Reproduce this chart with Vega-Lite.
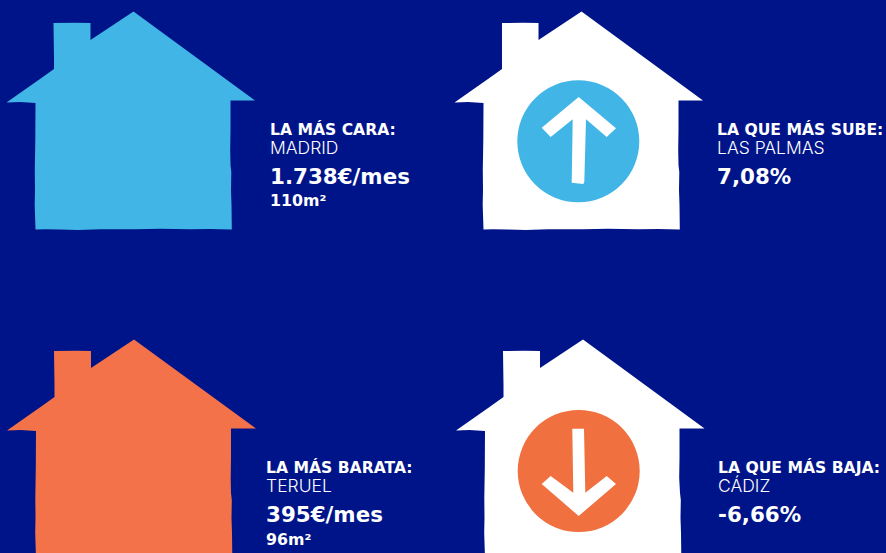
{"$schema":"https://vega.github.io/schema/vega-lite/v6.json","width":886,"height":553,"autosize":{"type":"fit","contains":"padding"},"padding":0,"background":"#001489","view":{"stroke":null},
"datasets":{
"blueHouse":[{"s":"a","i":0,"x":133.5,"y":11.5},{"s":"a","i":3,"x":255,"y":100.5},{"s":"a","i":4,"x":230.5,"y":100.5},{"s":"a","i":5,"x":230.5,"y":130},{"s":"a","i":6,"x":230.2,"y":150},{"s":"a","i":7,"x":230.5,"y":165},{"s":"a","i":8,"x":231.3,"y":172},{"s":"a","i":9,"x":231,"y":190},{"s":"a","i":10,"x":231.5,"y":205},{"s":"a","i":11,"x":231.8,"y":229.5},{"s":"a","i":12,"x":210,"y":229},{"s":"a","i":13,"x":190,"y":229.3},{"s":"a","i":14,"x":160,"y":228.8},{"s":"a","i":15,"x":135,"y":229.3},{"s":"a","i":16,"x":100,"y":229.2},{"s":"a","i":17,"x":78,"y":230},{"s":"a","i":18,"x":60,"y":229.6},{"s":"a","i":19,"x":45,"y":229.3},{"s":"a","i":20,"x":35.5,"y":229.5},{"s":"a","i":21,"x":34.7,"y":205},{"s":"a","i":22,"x":35,"y":190},{"s":"a","i":23,"x":34.8,"y":170},{"s":"a","i":24,"x":35.3,"y":140},{"s":"a","i":25,"x":35.5,"y":103},{"s":"a","i":26,"x":20,"y":102},{"s":"a","i":27,"x":6.5,"y":102.5},{"s":"a","i":28,"x":25,"y":89.5},{"s":"a","i":29,"x":40,"y":78.9},{"s":"a","i":30,"x":54,"y":69},{"s":"a","i":31,"x":54,"y":58},{"s":"a","i":32,"x":53.5,"y":23},{"s":"a","i":33,"x":75,"y":22.7},{"s":"a","i":34,"x":90.5,"y":23},{"s":"a","i":35,"x":90.5,"y":40}],
"orangeHouse":[{"s":"c","i":0,"x":134,"y":339.5},{"s":"c","i":3,"x":256,"y":428.5},{"s":"c","i":4,"x":231,"y":428.5},{"s":"c","i":5,"x":231,"y":458},{"s":"c","i":6,"x":230.7,"y":478},{"s":"c","i":7,"x":231,"y":493},{"s":"c","i":8,"x":231.8,"y":500},{"s":"c","i":9,"x":231.5,"y":518},{"s":"c","i":10,"x":232,"y":533},{"s":"c","i":11,"x":232.3,"y":557.5},{"s":"c","i":12,"x":36,"y":557.5},{"s":"c","i":13,"x":35.2,"y":533},{"s":"c","i":14,"x":35.5,"y":518},{"s":"c","i":15,"x":35.3,"y":498},{"s":"c","i":16,"x":35.8,"y":468},{"s":"c","i":17,"x":36,"y":431},{"s":"c","i":18,"x":20.5,"y":430},{"s":"c","i":19,"x":7,"y":430.5},{"s":"c","i":20,"x":25.5,"y":417.5},{"s":"c","i":21,"x":40.5,"y":406.9},{"s":"c","i":22,"x":54.5,"y":397},{"s":"c","i":23,"x":54.5,"y":386},{"s":"c","i":24,"x":54,"y":351},{"s":"c","i":25,"x":75.5,"y":350.7},{"s":"c","i":26,"x":91,"y":351},{"s":"c","i":27,"x":91,"y":368}],
"whiteHouses":[{"s":"b","i":0,"x":581.5,"y":11.5},{"s":"b","i":3,"x":703,"y":100.5},{"s":"b","i":4,"x":678.5,"y":100.5},{"s":"b","i":5,"x":678.5,"y":130},{"s":"b","i":6,"x":678.2,"y":150},{"s":"b","i":7,"x":678.5,"y":165},{"s":"b","i":8,"x":679.3,"y":172},{"s":"b","i":9,"x":679,"y":190},{"s":"b","i":10,"x":679.5,"y":205},{"s":"b","i":11,"x":679.8,"y":229.5},{"s":"b","i":12,"x":658,"y":229},{"s":"b","i":13,"x":638,"y":229.3},{"s":"b","i":14,"x":608,"y":228.8},{"s":"b","i":15,"x":583,"y":229.3},{"s":"b","i":16,"x":548,"y":229.2},{"s":"b","i":17,"x":526,"y":230},{"s":"b","i":18,"x":508,"y":229.6},{"s":"b","i":19,"x":493,"y":229.3},{"s":"b","i":20,"x":483.5,"y":229.5},{"s":"b","i":21,"x":482.7,"y":205},{"s":"b","i":22,"x":483,"y":190},{"s":"b","i":23,"x":482.8,"y":170},{"s":"b","i":24,"x":483.3,"y":140},{"s":"b","i":25,"x":483.5,"y":103},{"s":"b","i":26,"x":468,"y":102},{"s":"b","i":27,"x":454.5,"y":102.5},{"s":"b","i":28,"x":473,"y":89.5},{"s":"b","i":29,"x":488,"y":78.9},{"s":"b","i":30,"x":502,"y":69},{"s":"b","i":31,"x":502,"y":58},{"s":"b","i":32,"x":502,"y":23},{"s":"b","i":33,"x":523,"y":22.7},{"s":"b","i":34,"x":538.5,"y":23},{"s":"b","i":35,"x":538.5,"y":40},
{"s":"d","i":0,"x":583,"y":339.5},{"s":"d","i":3,"x":704.5,"y":428.5},{"s":"d","i":4,"x":679.5,"y":428.5},{"s":"d","i":5,"x":679.5,"y":458},{"s":"d","i":6,"x":679.2,"y":478},{"s":"d","i":7,"x":680,"y":493},{"s":"d","i":8,"x":680.8,"y":500},{"s":"d","i":9,"x":680.5,"y":518},{"s":"d","i":10,"x":681,"y":533},{"s":"d","i":11,"x":681.3,"y":557.5},{"s":"d","i":12,"x":485,"y":557.5},{"s":"d","i":13,"x":484.2,"y":533},{"s":"d","i":14,"x":484.5,"y":518},{"s":"d","i":15,"x":484.3,"y":498},{"s":"d","i":16,"x":484.8,"y":468},{"s":"d","i":17,"x":485,"y":431},{"s":"d","i":18,"x":469.5,"y":430},{"s":"d","i":19,"x":456,"y":430.5},{"s":"d","i":20,"x":474.5,"y":417.5},{"s":"d","i":21,"x":489.5,"y":406.9},{"s":"d","i":22,"x":503.5,"y":397},{"s":"d","i":23,"x":503.5,"y":386},{"s":"d","i":24,"x":503,"y":351},{"s":"d","i":25,"x":524.5,"y":350.7},{"s":"d","i":26,"x":540,"y":351},{"s":"d","i":27,"x":540,"y":368}],
"arrows":[{"s":"up","i":0,"x":578.7,"y":97},{"s":"up","i":1,"x":616,"y":128.3},{"s":"up","i":2,"x":606.7,"y":137},{"s":"up","i":3,"x":586,"y":119.3},{"s":"up","i":4,"x":584.3,"y":181.7},{"s":"up","i":5,"x":583.3,"y":184},{"s":"up","i":6,"x":571.7,"y":182.7},{"s":"up","i":7,"x":572.7,"y":119.3},{"s":"up","i":8,"x":550.7,"y":137},{"s":"up","i":9,"x":541.7,"y":127.7},
{"s":"down","i":0,"x":578.7,"y":516},{"s":"down","i":1,"x":616,"y":484},{"s":"down","i":2,"x":606.7,"y":476},{"s":"down","i":3,"x":585.3,"y":492.7},{"s":"down","i":4,"x":584,"y":428.7},{"s":"down","i":5,"x":572.3,"y":428.7},{"s":"down","i":6,"x":573.3,"y":492.7},{"s":"down","i":7,"x":550.7,"y":476},{"s":"down","i":8,"x":541.7,"y":484}],
"head":[{"x":270,"y":135,"t":"LA MÁS CARA:"},{"x":717,"y":135,"t":"LA QUE MÁS SUBE:"},{"x":266,"y":473,"t":"LA MÁS BARATA:"},{"x":718,"y":473,"t":"LA QUE MÁS BAJA:"}],
"city":[{"x":270,"y":154,"t":"MADRID"},{"x":717,"y":154,"t":"LAS PALMAS"},{"x":266,"y":492,"t":"TERUEL"},{"x":718,"y":492,"t":"CÁDIZ"}],
"big":[{"x":270,"y":184,"t":"1.738€/mes"},{"x":717,"y":184,"t":"7,08%"},{"x":266,"y":522,"t":"395€/mes"},{"x":718,"y":522,"t":"-6,66%"}],
"small":[{"x":270,"y":206,"t":"110m²"},{"x":266,"y":545,"t":"96m²"}]
},
"encoding":{"x":{"field":"x","type":"quantitative","scale":{"domain":[0,886],"nice":false,"zero":false},"axis":null},"y":{"field":"y","type":"quantitative","scale":{"domain":[553,0],"nice":false,"zero":false},"axis":null}},
"layer":[
{"data":{"name":"blueHouse"},"mark":{"type":"line","fill":"#41B6E6","strokeWidth":0,"clip":true},"encoding":{"detail":{"field":"s"},"order":{"field":"i","type":"quantitative"}}},
{"data":{"name":"orangeHouse"},"mark":{"type":"line","fill":"#F4724A","strokeWidth":0,"clip":true},"encoding":{"detail":{"field":"s"},"order":{"field":"i","type":"quantitative"}}},
{"data":{"name":"whiteHouses"},"mark":{"type":"line","fill":"#FFFFFF","strokeWidth":0,"clip":true},"encoding":{"detail":{"field":"s"},"order":{"field":"i","type":"quantitative"}}},
{"data":{"values":[{"x":578.3,"y":141.3}]},"mark":{"type":"point","shape":"circle","filled":true,"opacity":1,"size":14884,"fill":"#41B6E6","strokeWidth":0}},
{"data":{"values":[{"x":578.7,"y":471}]},"mark":{"type":"point","shape":"circle","filled":true,"opacity":1,"size":14884,"fill":"#F0703F","strokeWidth":0}},
{"data":{"name":"arrows"},"mark":{"type":"line","fill":"#FFFFFF","strokeWidth":0},"encoding":{"detail":{"field":"s"},"order":{"field":"i","type":"quantitative"}}},
{"data":{"name":"head"},"mark":{"type":"text","align":"left","baseline":"alphabetic","font":"DejaVu Sans","fontWeight":700,"fontSize":15.6,"fill":"#FFFFFF"},"encoding":{"text":{"field":"t"}}},
{"data":{"name":"city"},"mark":{"type":"text","align":"left","baseline":"alphabetic","font":"Inter","fontWeight":300,"fontSize":17.5,"fill":"#FFFFFF"},"encoding":{"text":{"field":"t"}}},
{"data":{"name":"big"},"mark":{"type":"text","align":"left","baseline":"alphabetic","font":"DejaVu Sans","fontWeight":700,"fontSize":21.4,"fill":"#FFFFFF"},"encoding":{"text":{"field":"t"}}},
{"data":{"name":"small"},"mark":{"type":"text","align":"left","baseline":"alphabetic","font":"DejaVu Sans","fontWeight":700,"fontSize":15.8,"fill":"#FFFFFF"},"encoding":{"text":{"field":"t"}}}
]}
